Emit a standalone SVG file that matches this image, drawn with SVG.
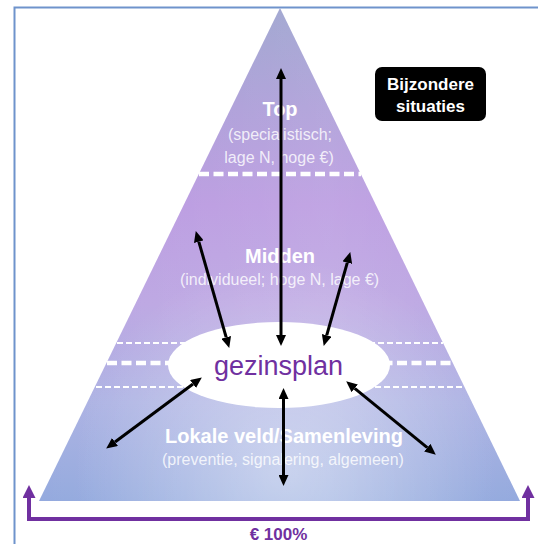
<svg xmlns="http://www.w3.org/2000/svg" width="538" height="544" viewBox="0 0 538 544">
  <style>
    .head { font-family: "Liberation Sans", Arial, sans-serif; font-weight: bold; font-size: 20px; fill: #ffffff; text-anchor: middle; }
    .sub { font-family: "Liberation Sans", Arial, sans-serif; font-size: 16px; fill: #ffffff; fill-opacity: 0.82; text-anchor: middle; }
    .conn { stroke: #000000; stroke-width: 3; fill: none; marker-start: url(#ah); marker-end: url(#ah); }
    .dash-thick { stroke: #ffffff; stroke-width: 4.5; stroke-dasharray: 10 4.5; fill: none; }
    .dash-thin { stroke: #ffffff; stroke-width: 2; stroke-dasharray: 6 3; fill: none; }
  </style>
  <defs>
    <marker id="ah" markerUnits="userSpaceOnUse" markerWidth="11" markerHeight="10" refX="0" refY="5" orient="auto-start-reverse" viewBox="0 0 11 10">
      <path d="M0,0 L11,5 L0,10 z" fill="#000000"/>
    </marker>
    <marker id="ph" markerUnits="userSpaceOnUse" markerWidth="13" markerHeight="13" refX="0" refY="6.5" orient="auto-start-reverse" viewBox="0 0 13 13">
      <path d="M0,0 L13,6.5 L0,13 z" fill="#7030a0"/>
    </marker>
    <linearGradient id="pyrV" gradientUnits="userSpaceOnUse" x1="0" y1="8" x2="0" y2="501">
      <stop offset="0" stop-color="#9aa0cd"/>
      <stop offset="0.2" stop-color="#aa9bd7"/>
      <stop offset="0.4" stop-color="#b999e0"/>
      <stop offset="0.6" stop-color="#bba5e2"/>
      <stop offset="0.8" stop-color="#acb2e3"/>
      <stop offset="1" stop-color="#94aade"/>
    </linearGradient>
    <linearGradient id="pyrH" gradientUnits="userSpaceOnUse" x1="39" y1="0" x2="520" y2="0">
      <stop offset="0" stop-color="#ffffff" stop-opacity="0"/>
      <stop offset="0.6" stop-color="#ffffff" stop-opacity="0.12"/>
      <stop offset="1" stop-color="#ffffff" stop-opacity="0"/>
    </linearGradient>
    <radialGradient id="glow" gradientUnits="userSpaceOnUse" cx="285" cy="470" r="210">
      <stop offset="0" stop-color="#ffffff" stop-opacity="0.4"/>
      <stop offset="1" stop-color="#ffffff" stop-opacity="0"/>
    </radialGradient>
  </defs>

  <g id="frame">
    <rect x="14.5" y="7.5" width="600" height="600" fill="none" stroke="#6f93cc" stroke-width="2"/>
  </g>

  <g id="pyramid">
    <polygon points="280,8 39,501 520,501" fill="url(#pyrV)"/>
    <polygon points="280,8 39,501 520,501" fill="url(#pyrH)"/>
    <polygon points="280,8 39,501 520,501" fill="url(#glow)"/>
    <line class="dash-thick" x1="199" y1="174" x2="361" y2="174"/>
    <line class="dash-thin" x1="117" y1="343" x2="443" y2="343"/>
    <line class="dash-thick" x1="107" y1="363" x2="453" y2="363"/>
    <line class="dash-thin" x1="96" y1="387" x2="464" y2="387"/>
  </g>

  <g id="top-label">
    <text class="head" x="280" y="116" font-size="17.5">Top</text>
    <text class="sub" x="280" y="140">(specialistisch;</text>
    <text class="sub" x="279" y="163">lage N, hoge €)</text>
  </g>

  <g id="midden-label">
    <text class="head" x="280" y="263">Midden</text>
    <text class="sub" x="279.5" y="285">(individueel; hoge N, lage €)</text>
  </g>

  <g id="lokale-label">
    <text class="head" x="284" y="443" font-size="19.5">Lokale veld/Samenleving</text>
    <text class="sub" x="283" y="465" font-size="16.4">(preventie, signalering, algemeen)</text>
  </g>

  <g id="gezinsplan">
    <ellipse cx="279" cy="365" rx="111" ry="43" fill="#ffffff"/>
    <text x="278.5" y="375" font-family="'Liberation Sans', Arial, sans-serif" font-size="27" fill="#7030a0" text-anchor="middle">gezinsplan</text>
  </g>

  <g id="bijzondere-situaties">
    <rect x="375" y="67" width="111" height="54" rx="7" fill="#000000"/>
    <text x="430.5" y="89.5" font-family="'Liberation Sans', Arial, sans-serif" font-weight="bold" font-size="17" fill="#ffffff" text-anchor="middle">Bijzondere</text>
    <text x="430.5" y="112" font-family="'Liberation Sans', Arial, sans-serif" font-weight="bold" font-size="17" fill="#ffffff" text-anchor="middle">situaties</text>
  </g>

  <g id="budget">
    <path d="M29,498 V519 H528 V498" fill="none" stroke="#7030a0" stroke-width="4" marker-start="url(#ph)" marker-end="url(#ph)"/>
    <text x="278.5" y="540" font-family="'Liberation Sans', Arial, sans-serif" font-weight="bold" font-size="17" fill="#7030a0" text-anchor="middle">€ 100%</text>
  </g>

  <g id="connectors">
    <line class="conn" x1="281" y1="79" x2="281" y2="335"/>
    <line class="conn" x1="198.8" y1="241.6" x2="226.2" y2="337.4"/>
    <line class="conn" x1="347.3" y1="262.6" x2="326.7" y2="335.4"/>
    <line class="conn" x1="193" y1="384" x2="115" y2="442"/>
    <line class="conn" x1="283.5" y1="399" x2="283.5" y2="475"/>
    <line class="conn" x1="354.7" y1="388.3" x2="427.3" y2="447.7"/>
  </g>
</svg>
